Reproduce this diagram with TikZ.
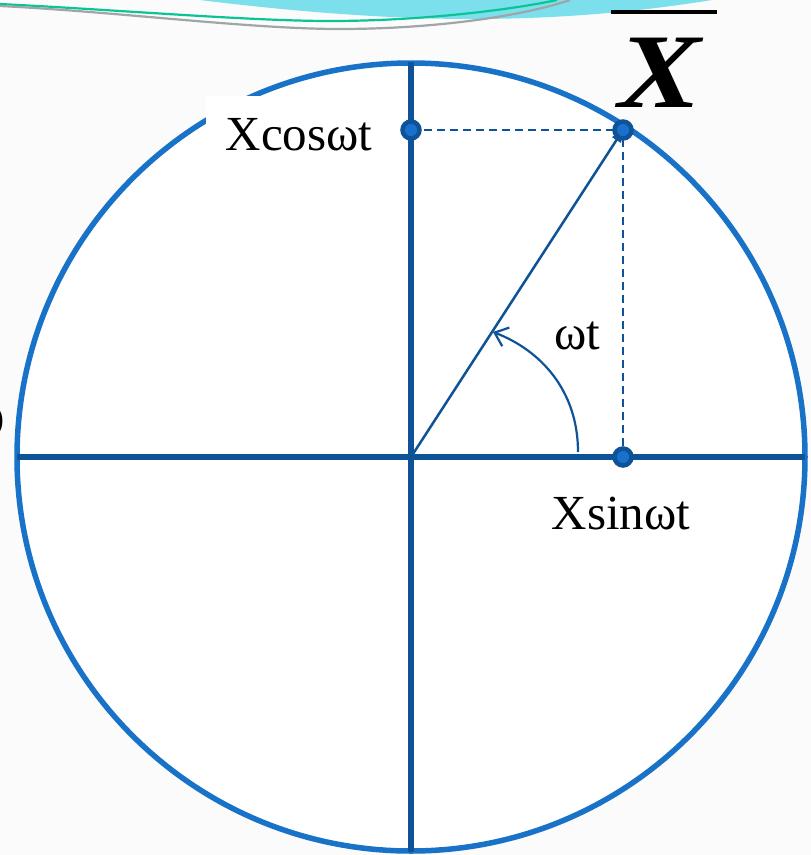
\documentclass[tikz,border=0pt]{standalone}
\usepackage{fontspec}
\setmainfont{Liberation Serif}
\usetikzlibrary{arrows.meta}
\definecolor{circblue}{RGB}{24,114,200}
\definecolor{axblue}{RGB}{14,82,152}
\definecolor{dotin}{RGB}{26,112,204}
\definecolor{swcyan}{RGB}{124,224,236}
\definecolor{swgreen}{RGB}{10,196,150}
\definecolor{swgray}{RGB}{160,165,168}
\begin{document}
\begin{tikzpicture}[x=1pt,y=-1pt,
  lbl/.style={font=\fontsize{49}{55}\selectfont, inner sep=0pt, text=black},
  axisln/.style={draw=axblue, line width=5.5pt},
  dashln/.style={draw=axblue, line width=2pt, dash pattern=on 8pt off 5pt},
  dotpt/.style={circle, fill=dotin, draw=axblue, line width=4.5pt, minimum size=17pt, inner sep=0pt},
]
\useasboundingbox (0,0) rectangle (811,855);
\fill[white!98.5!black] (0,0) rectangle (811,855);
% top decoration
\fill[swcyan] (200,0) .. controls (280,10) and (380,19) .. (470,19) .. controls (570,19) and (650,10) .. (712,0) -- cycle;
\draw[swgreen, line width=2.2pt] (0,4) .. controls (120,10) and (250,21) .. (330,21) .. controls (420,21) and (510,10) .. (557,0);
\draw[swgray, line width=2.2pt] (0,6) .. controls (120,12) and (250,29) .. (340,29) .. controls (430,29) and (520,17) .. (570,0);
% circle and axes
\coordinate (O) at (411,457);
\draw[circblue, fill=white, line width=5.5pt] (O) circle[radius=394];
\coordinate (L) at (17,457);
\coordinate (R) at (805,457);
\coordinate (T) at (411,62);
\coordinate (B) at (411,852);
\draw[axisln] (L) -- (R);
\draw[axisln] (T) -- (B);
% points
\coordinate (P) at (623,130);
\coordinate (Pc) at (411,130);
\coordinate (Ps) at (623,457);
\draw[dashln] (Pc) -- (P) -- (Ps);
\draw[axblue, line width=2.5pt, -{Triangle[length=12pt,width=10pt]}] (O) -- (P);
\coordinate (A0) at (578,452);
\coordinate (A1) at (493,332);
\draw[axblue, line width=2.2pt, -{Straight Barb[length=12pt,width=20pt]}] (A0) .. controls (578,390) and (540,350) .. (A1);
\node[dotpt] (dP) at (P) {};
\node[dotpt] (dPc) at (Pc) {};
\node[dotpt] (dPs) at (Ps) {};
% labels
\node[lbl, fill=white, minimum width=186pt, minimum height=78pt] (cos) at (299,135) {Xcosωt};
\node[lbl] (wt) at (577,336) {ωt};
\node[lbl] (sin) at (621,514) {Xsinωt};
\node[inner sep=0pt, font=\fontsize{106}{110}\selectfont\bfseries\itshape] (X) at (660,73) {\scalebox{1.17}[1]{X}};
\draw[black, line width=4pt] (611,12) -- (717,12);
\node[lbl, anchor=east] (o) at (5,422) {O};
\end{tikzpicture}
\end{document}
